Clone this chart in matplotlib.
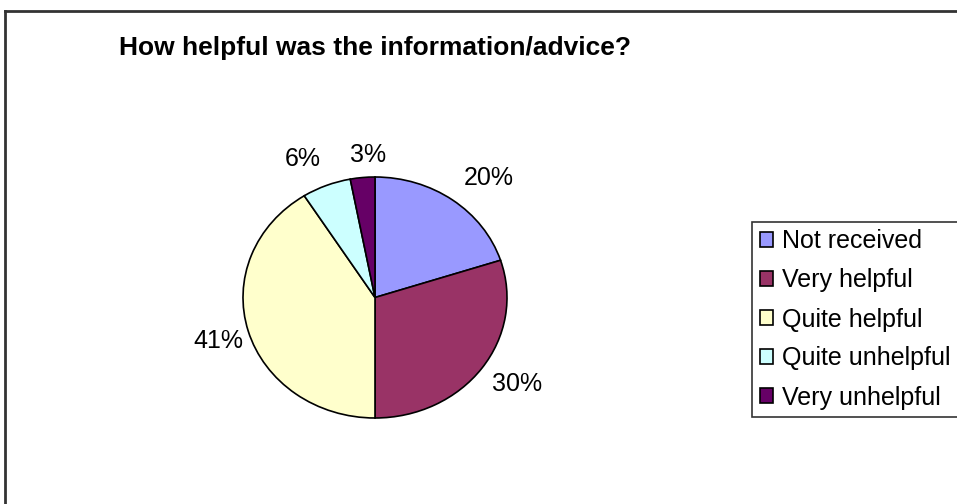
import matplotlib.pyplot as plt
from matplotlib.lines import Line2D

categories = ['Not received', 'Very helpful', 'Quite helpful', 'Quite unhelpful', 'Very unhelpful']
shares = [20, 30, 41, 6, 3]
colours = ['#9999FF', '#993366', '#FFFFCC', '#CCFFFF', '#660066']

# where Excel put each percentage label, in unit-pie coordinates
label_xy = [(0.86, 0.99), (1.08, -0.72), (-1.19, -0.36), (-0.55, 1.15), (-0.05, 1.18)]

plt.rcParams['font.family'] = ['Liberation Sans', 'DejaVu Sans']

W, H = 957, 504
fig = plt.figure(figsize=(W / 100, H / 100), dpi=100)

# chart area frame (only top and left edges are visible in the crop)
fig.add_artist(Line2D([5 / W, 1], [1 - 11 / H, 1 - 11 / H], color='#333333', lw=2))
fig.add_artist(Line2D([5 / W, 5 / W], [0, 1 - 11 / H], color='#333333', lw=2))

fig.text(375 / W, 1 - 48 / H, 'How helpful was the information/advice?',
         ha='center', va='center', fontsize=19, fontweight='bold')

# pie is slightly squashed vertically, like the original
ax = fig.add_axes([243 / W, 1 - 418 / H, 264 / W, 241 / H])
wedges, texts, autotexts = ax.pie(shares, colors=colours, startangle=90, counterclock=False,
                                  autopct='%1.0f%%', pctdistance=1.27,
                                  wedgeprops=dict(edgecolor='black', linewidth=1.2))
for t, xy in zip(autotexts, label_xy):
    t.set_fontsize(18)
    t.set_position(xy)
ax.set_aspect('auto')
ax.set_xlim(-1, 1)
ax.set_ylim(-1, 1)

# legend box runs off the right edge, as in the original crop
leg = fig.legend(wedges, categories, loc='upper left', bbox_to_anchor=(752 / W, 1 - 222 / H),
                 fontsize=18, frameon=True, fancybox=False, edgecolor='black',
                 handlelength=0.55, handleheight=0.55, handletextpad=0.35,
                 labelspacing=0.6, borderpad=0.3, borderaxespad=0)
leg.get_frame().set_linewidth(1.2)
for h in leg.legend_handles:
    h.set_edgecolor('black')
    h.set_linewidth(1.2)

fig.savefig('out.png', dpi=100)
